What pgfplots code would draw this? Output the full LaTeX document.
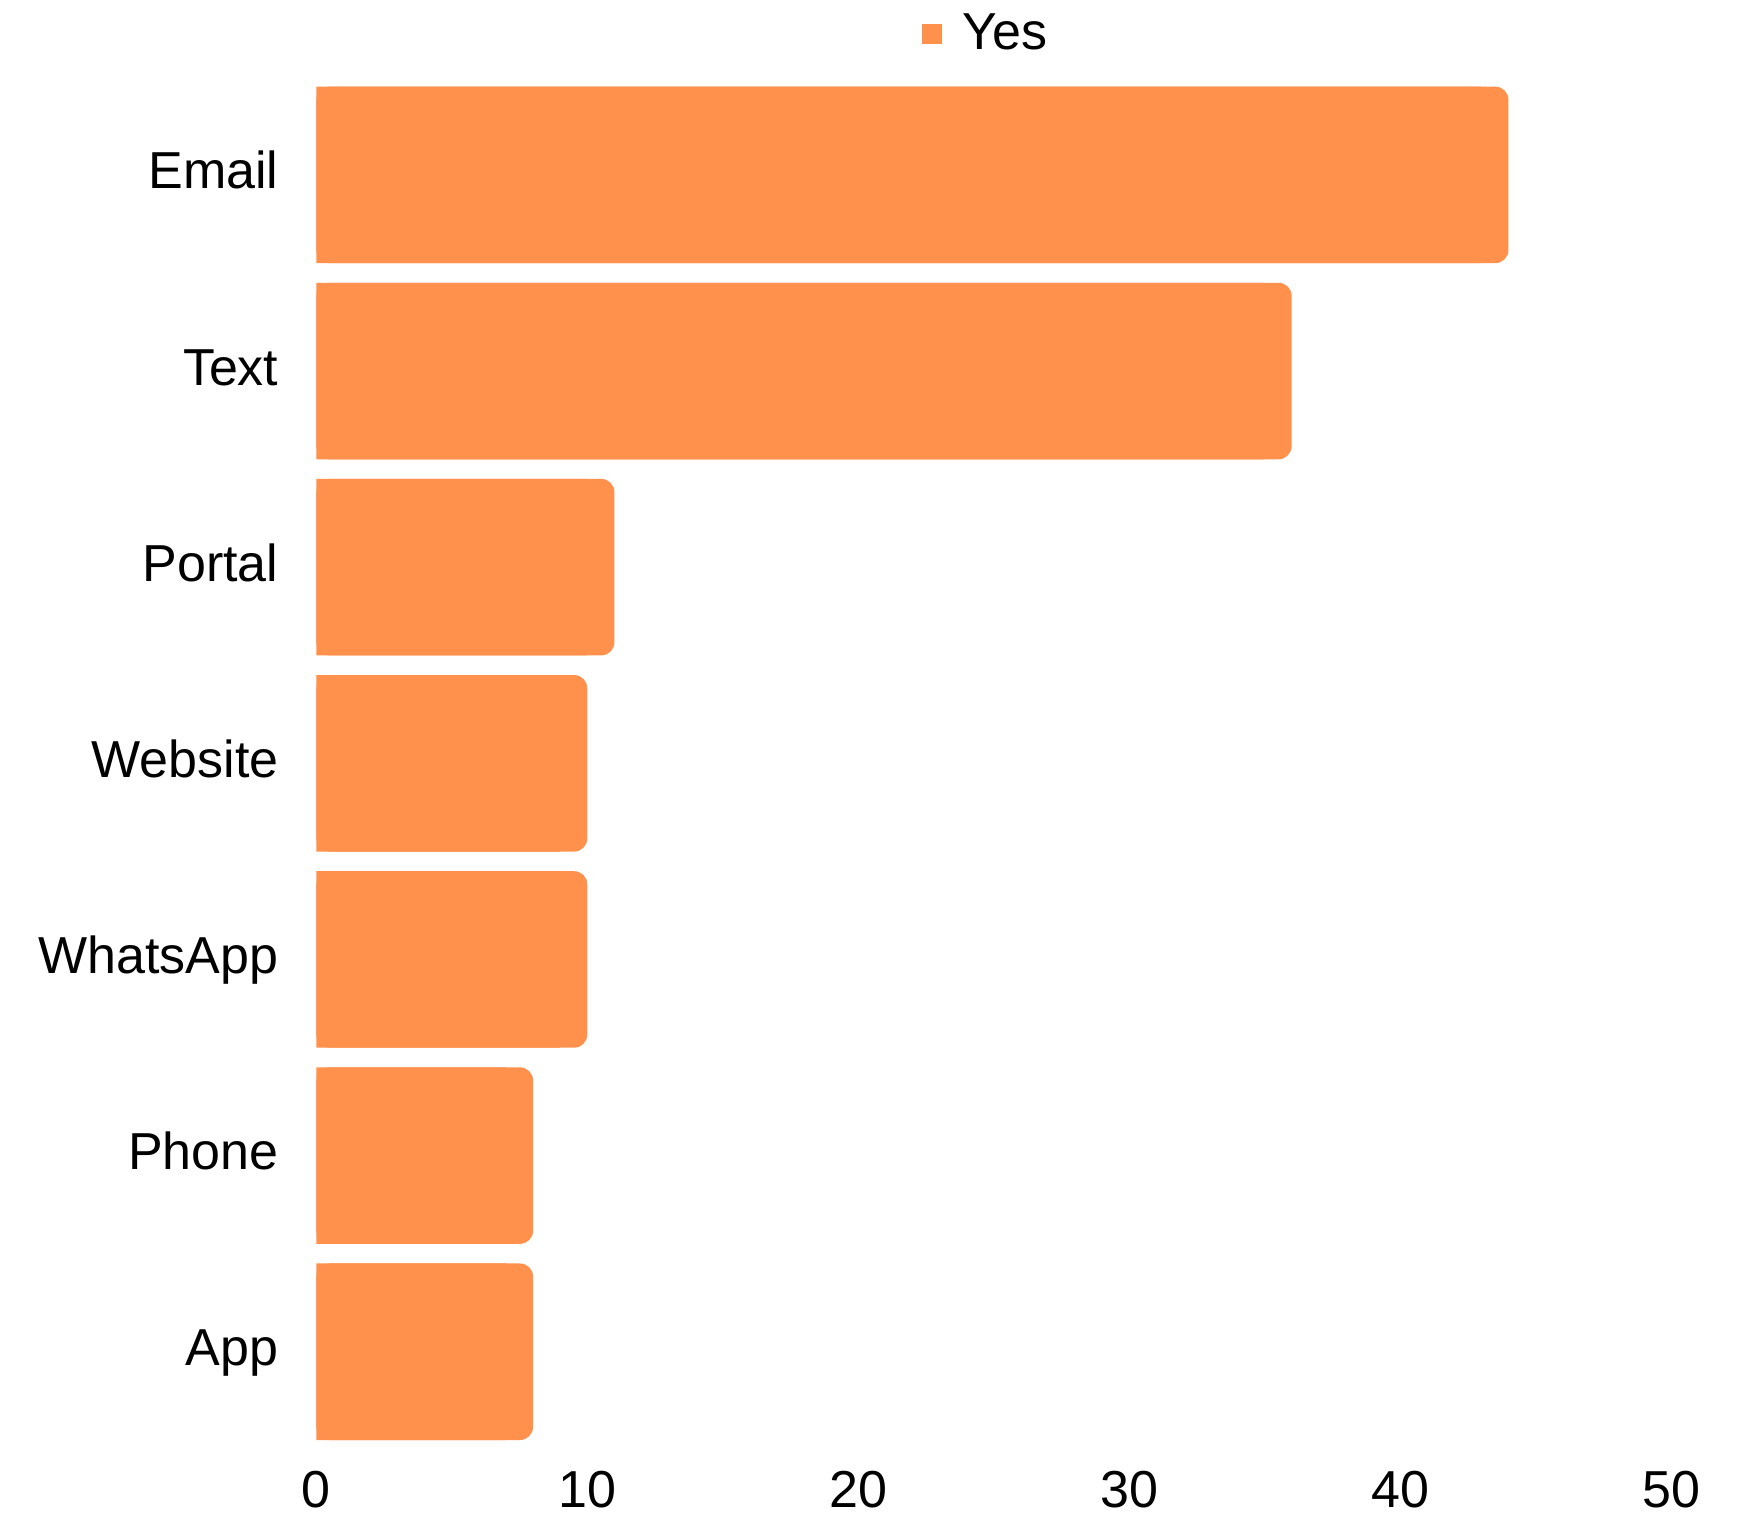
\documentclass[border=0pt]{standalone}
\usepackage{fontspec}
\setmainfont{Liberation Sans}
\usepackage{pgfplots}
\pgfplotsset{compat=1.18}
\definecolor{barorange}{HTML}{FF914D}
\begin{document}
\begin{tikzpicture}
\path[use as bounding box] (0,0) rectangle (435.25pt,378.25pt);
\begin{axis}[
  at={(79.1pt,15.8pt)}, anchor=south west,
  scale only axis, width=338.65pt, height=343.25pt,
  xmin=0, xmax=50, ymin=-0.5, ymax=6.5,
  xtick={0,10,...,50},
  ytick={0,...,6},
  yticklabels={App,Phone,WhatsApp,Website,Portal,Text,Email},
  axis line style={draw=none},
  major tick length=0pt,
  /pgf/number format/assume math mode=true,
  tick label style={font=\fontsize{13}{15.6}\selectfont, text=black},
  yticklabel style={inner sep=0pt, anchor=base east, xshift=-9.3pt, yshift=-3.5pt},
  xticklabel style={inner sep=0pt, yshift=-5.2pt},
  xbar, bar width=0.9, bar shift=0pt,
  legend style={at={(axis description cs:0.5,1)}, anchor=center, yshift=10.6pt, xshift=-1.2pt,
    draw=none, fill=none, font=\fontsize{13}{15.6}\selectfont,
    /tikz/every even column/.append style={column sep=0pt}},
  legend cell align=left,
  legend image code/.code={\fill[barorange, sharp corners] (0pt,-2.5pt) rectangle (5pt,2.5pt);
    \path (8pt,0pt);},
]
\addplot[draw=none, fill=barorange, rounded corners=3.3pt] coordinates {
  (8,0) (8,1) (10,2) (10,3) (11,4) (36,5) (44,6)
};
\addlegendentry{Yes}
\addplot[draw=none, fill=barorange, forget plot] coordinates {
  (7,0) (7,1) (9,2) (9,3) (10,4) (35,5) (43,6)
};
\end{axis}
\end{tikzpicture}
\end{document}
